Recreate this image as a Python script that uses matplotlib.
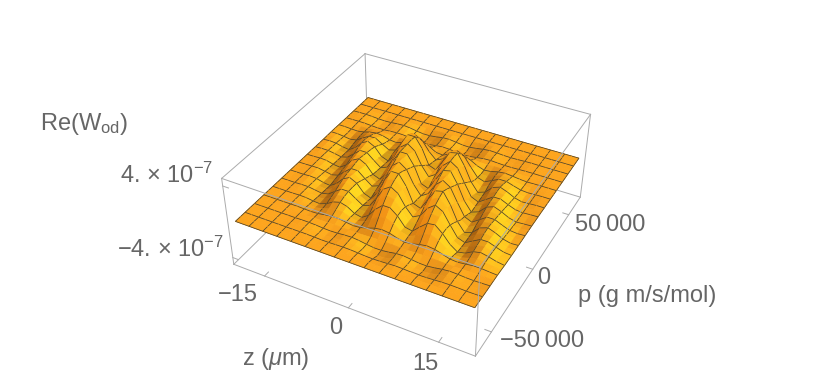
import numpy as np
import matplotlib
matplotlib.use('Agg')
import matplotlib.pyplot as plt
from matplotlib.colors import LinearSegmentedColormap
from mpl_toolkits.mplot3d.art3d import Poly3DCollection

plt.rcParams['font.family'] = ['Liberation Sans', 'DejaVu Sans']
plt.rcParams['mathtext.fontset'] = 'custom'
plt.rcParams['mathtext.rm'] = 'Liberation Sans'
plt.rcParams['mathtext.it'] = 'Liberation Sans:italic'
plt.rcParams['mathtext.default'] = 'regular'

z_range = (-20, 20)
p_range = (-65000, 65000)
z_ticks = [-15, 0, 15]
p_ticks = [-50000, 0, 50000]
w_ticks = [-4e-7, 4e-7]

# Re(W_od) in units of 1e-8, one row per p value
w_table = [
 [0]*33,
 [0]*33,
 [0,0,0,0,0,0,0,0,.1,0,-.2,-.5,-.5,-.2,0,-.1,-.6,-1.2,-1.4,-1.2,-.7,-.3,-.5,-1,-1.2,-1,-.5,0,.2,0,-.3,-.3,-.1],
 [0,0,0,0,0,0,0,.2,.3,-.1,-.8,-1.3,-1.1,-.3,.1,-.5,-2,-3.3,-3.6,-2.8,-1.2,-.6,-1.5,-2.7,-3.2,-2.3,-.8,.4,.4,-.3,-.7,-.6,-.2],
 [0,0,0,0,0,0,0,.2,.2,-.2,-.8,-1.1,-.8,-.1,.2,-.6,-1.9,-2.9,-2.9,-2,-.6,-.4,-1.4,-2.4,-2.6,-1.6,-.3,.5,.2,-.4,-.6,-.4,-.1],
 [0,0,0,0,0,0,0,-.1,0,.1,.2,.3,.2,0,0,.2,.5,.7,.7,.4,.1,.2,.4,.6,.6,.3,0,-.1,0,.1,.1,.1,0],
 [0,0,0,0,.1,.1,-.2,-.5,-.1,1.1,2.2,2.2,1,-.1,.5,2.8,5.4,6.5,5.5,3,1.2,2.1,4.3,5.6,4.7,2.2,-.2,-.8,.2,1.2,1.2,.5,0],
 [0,0,0,0,.2,0,-.6,-1.1,.3,3,4.9,4.2,1.3,-.5,1.8,7.5,12.5,13.7,10.6,4.7,2.2,5.7,10.3,12,8.7,3,-1.3,-1.4,1.1,2.8,2.2,.8,-.2],
 [0,0,0,0,.3,0,-1.1,-1.7,1.1,5.6,7.8,5.6,.6,-1.1,3.9,13.4,20.2,20.2,14,4.5,2.8,10.1,16.8,17.9,11.2,2.2,-3.4,-1.7,2.8,4.5,2.8,.6,-.6],
 [0,0,0,.1,.3,-.4,-1.7,-1.3,2.9,7.9,9.4,5.6,.2,.2,8.1,19.4,25.9,24,15,5.3,6,15.1,22,20.9,11.5,.4,-3.8,-.4,4.2,5.3,2.9,.4,-.6],
 [0,0,0,.3,.3,-.9,-2.1,-.4,5.1,10.2,10.2,4.7,-.4,2.1,13.2,25.5,30.6,25.9,14,5.5,9.8,20.4,26.4,22.1,10.2,-.9,-3.8,.9,5.5,5.5,2.6,0,-.7],
 [0,0,0,.4,.1,-1.4,-2.6,.7,7.4,12.1,10.2,3.1,-1.2,4.5,18.4,30.7,33.5,25.9,11.4,5.4,14,25.1,29.3,21.4,7.4,-3.3,-3.5,2.8,6.8,5.4,1.9,-.5,-.6],
 [0,0,0,.5,0,-2,-2.9,2,9.8,13.7,9.8,1,-2,6.9,23.5,35.3,35.3,24.5,7.8,4.9,17.6,29.4,31.4,19.6,3.9,-5.9,-2.9,4.9,7.8,4.9,1,-1,-.5],
 [0,0,.1,.4,-.5,-2.3,-1.8,4,11,13,7.8,.3,.3,11.3,27,36,33.3,20.8,7.3,8.3,21,30.5,29,16,.5,-5.3,-.5,5.8,7.3,4,.5,-.9,-.4],
 [0,0,.3,.3,-1,-2.5,-.5,6,12,12,5.5,-.5,2.5,15.5,30,36,30.5,16.5,6.5,11.5,24,31,26,12,-1,-4.5,1,6.5,6.5,3,0,-.8,-.3],
 [0,0,.4,.1,-1.5,-2.8,.8,8,13,11,3.3,-1.3,4.8,19.8,33,36,27.8,12.3,5.8,15,27,31.5,23,8,-3.5,-3.8,3,7.3,5.8,2,-.5,-.6,-.1],
 [0,0,.5,0,-2,-3,2,10,14,10,1,-2,7,24,36,36,25,8,5,18,30,32,20,4,-6,-3,5,8,5,1,-1,-.5,0],
 [0,.1,.4,-.5,-2.3,-1.8,4,11,13,7.8,.3,.3,11.3,27,36,33.3,20.8,7.3,8.3,21,30.5,29,16,.5,-5.3,-.5,5.8,7.3,4,.5,-.9,-.4,0],
 [0,.3,.3,-1,-2.5,-.5,6,12,12,5.5,-.5,2.5,15.5,30,36,30.5,16.5,6.5,11.5,24,31,26,12,-1,-4.5,1,6.5,6.5,3,0,-.8,-.3,0],
 [0,.4,.1,-1.5,-2.8,.8,8,13,11,3.3,-1.3,4.8,19.8,33,36,27.8,12.3,5.8,15,27,31.5,23,8,-3.5,-3.8,3,7.3,5.8,2,-.5,-.6,-.1,0],
 [0,.5,0,-1.9,-2.9,1.9,9.7,13.6,9.7,1,-1.9,6.8,23.3,34.9,34.9,24.3,7.8,4.9,17.5,29.1,31,19.4,3.9,-5.8,-2.9,4.9,7.8,4.9,1,-1,-.5,0,0],
 [.1,.4,-.4,-2,-1.6,3.5,9.7,11.4,6.9,.3,.3,9.9,23.8,31.7,29.3,18.3,6.4,7.3,18.5,26.8,25.5,14.1,.4,-4.7,-.4,5.1,6.4,3.5,.4,-.8,-.4,0,0],
 [.2,.2,-.7,-1.8,-.4,4.3,8.6,8.6,4,-.4,1.8,11.2,21.6,25.9,22,11.9,4.7,8.3,17.3,22.3,18.7,8.6,-.7,-3.2,.7,4.7,4.7,2.2,0,-.6,-.2,0,0],
 [.2,0,-.8,-1.4,.4,4,6.5,5.5,1.7,-.7,2.4,9.9,16.5,18,13.9,6.2,2.9,7.5,13.5,15.8,11.5,4,-1.8,-1.9,1.5,3.7,2.9,1,-.3,-.3,0,0,0],
 [.1,0,-.5,-.8,.5,2.6,3.6,2.6,.3,-.5,1.8,6.2,9.4,9.4,6.5,2.1,1.3,4.7,7.8,8.3,5.2,1,-1.6,-.8,1.3,2.1,1.3,.3,-.3,-.1,0,0,0],
 [0,0,-.1,-.1,.2,.7,.8,.5,0,0,.7,1.6,2.2,2,1.2,.4,.5,1.3,1.8,1.7,1,0,-.3,0,.3,.4,.2,0,-.1,0,0,0,0],
 [0,.1,.2,0,-.5,-1,-1,-.4,0,-.2,-1.2,-2.4,-2.9,-2.4,-1.3,-.5,-.9,-1.9,-2.5,-2.1,-1,.1,.4,-.1,-.5,-.5,-.2,0,.1,0,0,0,0],
 [0,.2,.3,-.1,-1,-1.6,-1.3,-.4,.2,-.6,-2.4,-4,-4.3,-3.3,-1.5,-.7,-1.8,-3.2,-3.8,-2.8,-1,.4,.5,-.4,-.9,-.7,-.2,.1,.1,0,0,0,0],
 [0,.2,.2,-.2,-.8,-1.1,-.8,-.1,.2,-.6,-1.9,-2.9,-2.9,-2,-.6,-.4,-1.4,-2.4,-2.6,-1.6,-.3,.5,.2,-.4,-.6,-.4,-.1,.1,0,0,0,0,0],
 [0,.1,.1,-.1,-.3,-.4,-.2,0,0,-.3,-.8,-1.1,-1,-.6,-.2,-.2,-.6,-.9,-.9,-.5,0,.2,0,-.2,-.2,-.1,0,0,0,0,0,0,0],
 [0]*33,
 [0]*33,
 [0]*33,
]

W = np.array(w_table) * 1e-8
n_p, n_z = W.shape
z = np.linspace(z_range[0], z_range[1], n_z)
p = np.linspace(p_range[0], p_range[1], n_p)
Z, P = np.meshgrid(z, p)

# box is 2% bigger than the surface each way
xmin, xmax = -20.8, 20.8
ymin, ymax = -67600, 67600
wmin, wmax = -4.8e-7, 4.8e-7
h = 0.4

left, bottom, size = 221.0, 381.7, 376.3
fig = plt.figure(figsize=(8.3, 3.8), dpi=100, facecolor='white')
ax = fig.add_axes([left / 830, 1 - bottom / 380, size / 830, size / 380], projection='3d', computed_zorder=False)
ax.set_axis_off()
ax.set_xlim(xmin, xmax)
ax.set_ylim(ymin, ymax)
ax.set_zlim(wmin, wmax)
ax.view_init(elev=37, azim=-62)
ax.set_proj_type('persp', focal_length=0.5)
ax.set_box_aspect((1, 1, h))

# shading from the surface normals
du = 1 / (n_z - 1)
gy_, gx_ = np.gradient(W / wmax * h / 2, du)
norm = np.sqrt(gx_**2 + gy_**2 + 1)
L = np.array([0.55, 0.0, 0.83])
t = (-gx_ * L[0] - gy_ * L[1] + L[2]) / norm
cmap = LinearSegmentedColormap.from_list('gold', [(0.0, '#E27F0E'), (0.45, '#EC8A12'), (0.74, '#FDA41E'),
                                                  (0.80, '#FFC21F'), (0.86, '#FFDC20'), (1.0, '#FFE622')])
shade = cmap(np.clip((t + 0.2) / 1.39, 0, 1))
dark = np.clip(np.clip(gx_, 0, None) * 2.5 * np.clip(1 - (W + 3e-8) / 1.2e-7, 0, 1), 0, 0.75)[..., None]
shade[..., :3] = shade[..., :3] * (1 - dark) + np.array([0.55, 0.32, 0.06]) * dark

polys, face, edge = [], [], []
for j in range(n_p - 1):
    for i in range(n_z - 1):
        polys.append([(Z[j, i], P[j, i], W[j, i]), (Z[j, i+1], P[j, i+1], W[j, i+1]),
                      (Z[j+1, i+1], P[j+1, i+1], W[j+1, i+1]), (Z[j+1, i], P[j+1, i], W[j+1, i])])
        col = shade[j:j+2, i:i+2].mean(axis=(0, 1))
        face.append(col)
        edge.append(col)

# mesh lines go in the same collection so ridges can hide them
mesh_col = (0.30, 0.26, 0.17, 1)
for k in range(0, n_p, 2):
    for i in range(n_z - 1):
        a = (Z[k, i], P[k, i], W[k, i])
        b = (Z[k, i+1], P[k, i+1], W[k, i+1])
        polys.append([a, b, b, a])
        face.append(mesh_col)
        edge.append(mesh_col)
for k in range(0, n_z, 2):
    for j in range(n_p - 1):
        a = (Z[j, k], P[j, k], W[j, k])
        b = (Z[j+1, k], P[j+1, k], W[j+1, k])
        polys.append([a, b, b, a])
        face.append(mesh_col)
        edge.append(mesh_col)

surf = Poly3DCollection(polys, facecolors=face, edgecolors=edge, linewidths=0.55, zorder=2)
surf.set_zsort('max')
ax.add_collection3d(surf, autolim=False)

box_col = '#ababab'
back_edges = [((xmin, ymax, wmin), (xmax, ymax, wmin)), ((xmin, ymin, wmin), (xmin, ymax, wmin)),
              ((xmin, ymax, wmin), (xmin, ymax, wmax)), ((xmax, ymax, wmin), (xmax, ymax, wmax))]
front_edges = [((xmin, ymin, wmin), (xmax, ymin, wmin)), ((xmax, ymin, wmin), (xmax, ymax, wmin)),
               ((xmin, ymin, wmin), (xmin, ymin, wmax)), ((xmax, ymin, wmin), (xmax, ymin, wmax)),
               ((xmin, ymin, wmax), (xmax, ymin, wmax)), ((xmax, ymin, wmax), (xmax, ymax, wmax)),
               ((xmax, ymax, wmax), (xmin, ymax, wmax)), ((xmin, ymax, wmax), (xmin, ymin, wmax))]
for a, b in back_edges:
    ax.plot(*zip(a, b), color=box_col, lw=0.7, zorder=1)
for a, b in front_edges:
    ax.plot(*zip(a, b), color=box_col, lw=0.7, zorder=3)

for v in z_ticks:
    ax.plot([v, v], [ymin, ymin + 0.025 * (ymax - ymin)], [wmin, wmin], color=box_col, lw=0.7, zorder=3)
for v in p_ticks:
    ax.plot([xmax, xmax - 0.025 * (xmax - xmin)], [v, v], [wmin, wmin], color=box_col, lw=0.7, zorder=3)
for v in w_ticks:
    ax.plot([xmin, xmin + 0.025 * (xmax - xmin)], [ymin, ymin], [v, v], color=box_col, lw=0.7, zorder=3)

txt = dict(color='#666666', fontsize=17)


def label(x, y, s, ha='center'):
    fig.text(x / 830, 1 - y / 380, s, ha=ha, va='baseline', **txt)


label(40, 130, r'Re(W$_{od}$)', ha='left')
label(213, 183, '4. × 10$^{-7}$', ha='right')
label(224, 257, '\u22124. × 10$^{-7}$', ha='right')
label(238, 301, '\u221215')
label(336, 334, '0')
label(425, 370, '15')
label(276, 365, r'z ($\mathit{\mu}$m)')
label(610, 231, '50\u2009000')
label(544, 284, '0')
label(542, 347, '\u221250\u2009000')
label(647, 302, 'p (g m/s/mol)')

fig.savefig('out.png', dpi=100)
